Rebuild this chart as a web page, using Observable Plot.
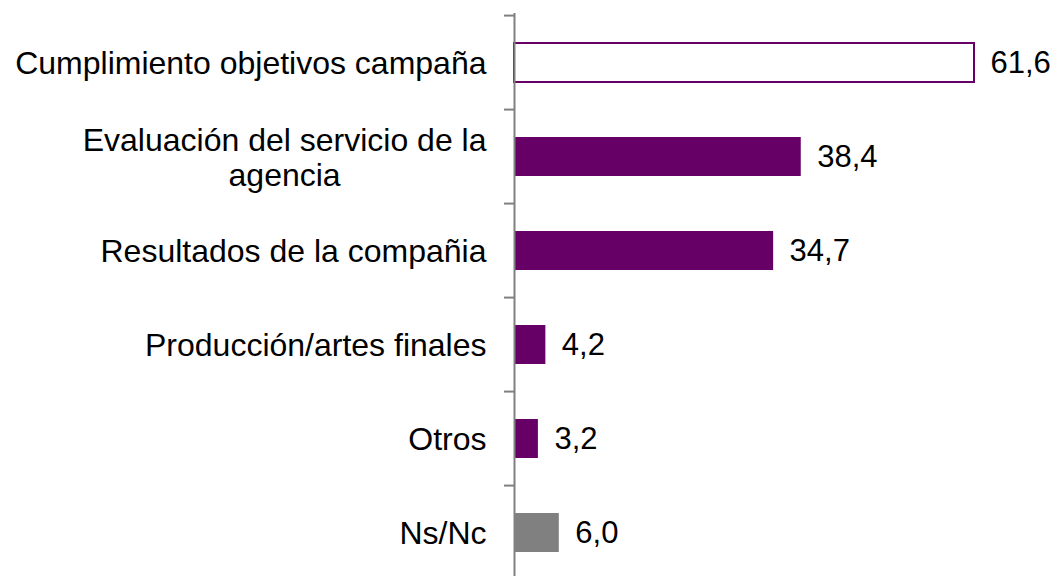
<!DOCTYPE html>
<html>
<head>
<meta charset="utf-8">
<script src="https://cdn.jsdelivr.net/npm/d3@7"></script>
<script src="https://cdn.jsdelivr.net/npm/@observablehq/plot@0.6"></script>
<style>
  html, body { margin: 0; padding: 0; background: #fff; }
  #chart svg { display: block; }
</style>
</head>
<body>
<div id="chart"></div>
<script>
const categories = [
  "Cumplimiento objetivos campaña",
  "Evaluación del servicio de la agencia",
  "Resultados de la compañia",
  "Producción/artes finales",
  "Otros",
  "Ns/Nc"
];
const values = [61.6, 38.4, 34.7, 4.2, 3.2, 6.0];
const tickLabels = [
  "Cumplimiento objetivos campaña",
  "Evaluación del servicio de la\nagencia",
  "Resultados de la compañia",
  "Producción/artes finales",
  "Otros",
  "Ns/Nc"
];

const data = categories.map((c, i) => ({category: c, value: values[i], label: tickLabels[i], i}));
const purple = "#660066";
const gray = "#808080";
const fillOf = d => d.i === 0 ? "#ffffff" : (d.category === "Ns/Nc" ? gray : purple);
const strokeOf = d => d.i === 0 ? purple : "none";
const fmt = v => d3.format(".1f")(v).replace(".", ",");

const step = (582 - 13) / categories.length;

const chart = Plot.plot({
  width: 1059,
  height: 576,
  marginLeft: 514,
  marginRight: 85,
  marginTop: 13,
  marginBottom: -6,
  style: {fontFamily: "'Liberation Sans', Arial, sans-serif", fontSize: "32px", color: "#000", background: "#fff"},
  x: {domain: [0, d3.max(values)], axis: null},
  y: {domain: categories, paddingInner: 0.59, paddingOuter: 0.295, axis: null, label: null},
  marks: [
    Plot.barX(data, {x: "value", y: "category", fill: fillOf, stroke: strokeOf, strokeWidth: 2}),
    Plot.ruleX([0], {stroke: gray, strokeWidth: 2}),
    Plot.axisY({tickSize: 10, text: null, label: null, dy: -step / 2, stroke: gray, strokeWidth: 2}),
    Plot.text(data, {y: "category", frameAnchor: "left", dx: -28, textAnchor: "end", text: "label", fontSize: 32, lineHeight: 1.12, fill: "#000", className: "cat-labels"}),
    Plot.text(data, {x: "value", y: "category", text: d => fmt(d.value), dx: 16, textAnchor: "start", fontSize: 31, fill: "#000"})
  ]
});
document.getElementById("chart").appendChild(chart);

// center the lines of wrapped labels within their right-aligned block
d3.select(chart).selectAll("g.cat-labels text").each(function() {
  const tspans = d3.select(this).selectAll("tspan");
  if (tspans.size() < 2) return;
  let w = 0;
  tspans.each(function() { w = Math.max(w, this.getComputedTextLength()); });
  d3.select(this).attr("text-anchor", "middle");
  tspans.attr("x", -w / 2);
});
</script>
</body>
</html>
